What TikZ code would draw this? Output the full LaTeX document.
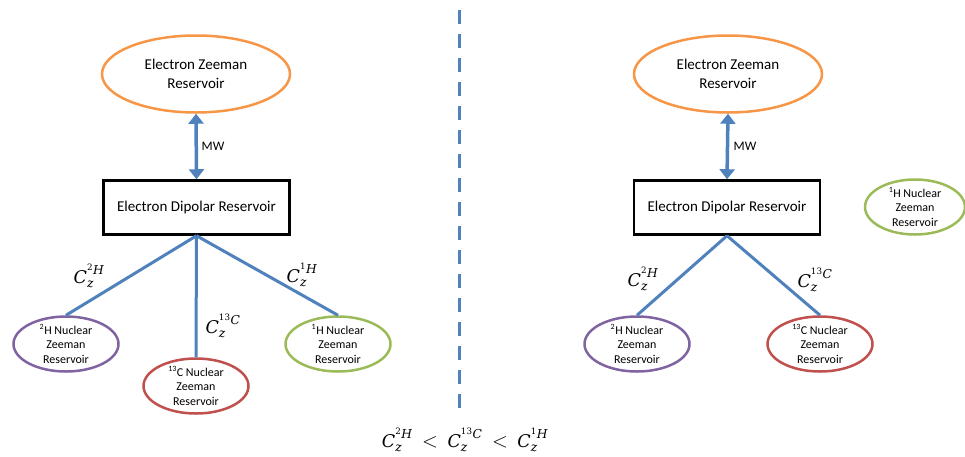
\documentclass[tikz,border=0pt]{standalone}
\usepackage{fontspec}
\usepackage{amsmath}
\setmainfont{Carlito}
\newfontfamily\lblfont{DejaVu Serif}
\newcommand{\ci}[1]{\text{\lblfont\itshape #1}}
\newcommand{\cu}[1]{\text{\lblfont\upshape #1}}
\newcommand{\cz}[2]{\ci{C}_{\ci{z}}^{{}^{\cu{#1}}\ci{#2}}}
\newcommand{\lessrel}{\mathrel{\;\text{\fontsize{21}{21}\selectfont$<$}\;}}
\usetikzlibrary{shapes.geometric,arrows.meta}
\definecolor{cblue}{RGB}{79,129,189}
\definecolor{corange}{RGB}{247,150,70}
\definecolor{cpurple}{RGB}{128,100,162}
\definecolor{cred}{RGB}{192,80,77}
\definecolor{cgreen}{RGB}{155,187,89}
\begin{document}
\begin{tikzpicture}[x=1pt,y=-1pt,
  bigell/.style={ellipse, draw, line width=2.5pt, minimum width=188, minimum height=77, inner sep=0pt,
    font=\fontsize{15}{19}\selectfont, align=center},
  smell/.style={ellipse, draw, line width=2.5pt, minimum width=105, minimum height=55, inner sep=0pt},
  smtext/.style={align=center, font=\fontsize{12}{14.5}\selectfont, inner sep=0pt},
  dipbox/.style={rectangle, draw=black, line width=2.5pt, minimum width=186, minimum height=54,
    font=\fontsize{15}{19}\selectfont, inner sep=0pt},
  mwarrow/.style={draw=cblue, line width=3.5pt, {Triangle[width=15pt,length=10pt]}-{Triangle[width=15pt,length=10pt]}},
  link/.style={draw=cblue, line width=3pt},
  clab/.style={font=\fontsize{17.5}{20}\selectfont, inner sep=0pt},
  mwlab/.style={font=\fontsize{13}{15}\selectfont, inner sep=0pt}
]
\useasboundingbox (0,0) rectangle (965,456);

% ---------- left panel ----------
\node[bigell, draw=corange] (ezL) at (196,74) {Electron Zeeman\\Reservoir};
\node[dipbox] (edL) at (196.5,207.5) {Electron Dipolar Reservoir};
\draw[mwarrow] (ezL.south) -- (edL.north);
\node[mwlab] (mwL) at (213,146) {MW};

\node[smell, draw=cpurple, label={[smtext]center:\textsuperscript{2}H Nuclear\\Zeeman\\Reservoir}] (hL) at (66,344) {};
\node[smell, draw=cred, label={[smtext]center:\textsuperscript{13}C Nuclear\\Zeeman\\Reservoir}] (cL) at (196,386) {};
\node[smell, draw=cgreen, label={[smtext]center:\textsuperscript{1}H Nuclear\\Zeeman\\Reservoir}] (pL) at (338,344) {};
\draw[link] (edL.south) -- (hL.north);
\draw[link] (edL.south) -- (cL.north);
\draw[link] (edL.south) -- (pL.north);
\node[clab] (l2L) at (89,276) {$\cz{2}{H}$};
\node[clab] (l13L) at (223,326) {$\cz{13}{C}$};
\node[clab] (l1L) at (302,275) {$\cz{1}{H}$};

% ---------- divider ----------
\coordinate (dtop) at (459,10);
\coordinate (dbot) at (459,408);
\draw[cblue, line width=3pt, dash pattern=on 14pt off 10pt] (dtop) -- (dbot);

% ---------- right panel ----------
\node[bigell, draw=corange] (ezR) at (728,74) {Electron Zeeman\\Reservoir};
\node[dipbox] (edR) at (727,207.5) {Electron Dipolar Reservoir};
\draw[mwarrow] (ezR.south) -- (edR.north);
\node[mwlab] (mwR) at (745,146) {MW};

\node[smell, draw=cpurple, label={[smtext]center:\textsuperscript{2}H Nuclear\\Zeeman\\Reservoir}] (hR) at (637,344) {};
\node[smell, draw=cred, label={[smtext]center:\textsuperscript{13}C Nuclear\\Zeeman\\Reservoir}] (cR) at (820,344) {};
\node[smell, draw=cgreen, minimum width=100, label={[smtext]center:\textsuperscript{1}H Nuclear\\Zeeman\\Reservoir}] (pR) at (915,207) {};
\draw[link] (edR.south) -- (hR.north);
\draw[link] (edR.south) -- (cR.north);
\node[clab] (l2R) at (643,279) {$\cz{2}{H}$};
\node[clab] (l13R) at (815,280) {$\cz{13}{C}$};

% ---------- bottom relation ----------
\node[clab] (rel) at (465,440) {$\cz{2}{H} \lessrel \cz{13}{C} \lessrel \cz{1}{H}$};
\end{tikzpicture}
\end{document}
